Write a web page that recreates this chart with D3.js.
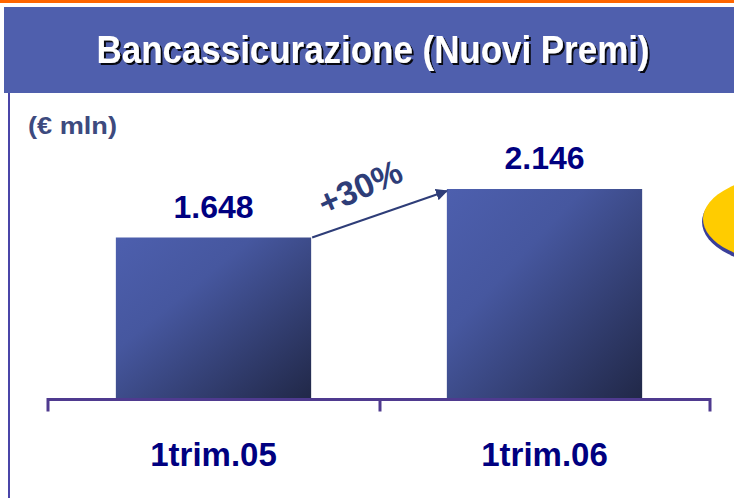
<!DOCTYPE html>
<html>
<head>
<meta charset="utf-8">
<script src="https://cdn.jsdelivr.net/npm/d3@7"></script>
<style>
  body { margin: 0; background: #fff; }
  text { font-family: "Liberation Sans", Arial, sans-serif; font-weight: bold; }
</style>
</head>
<body>
<script>
// Data
var categories = ["1trim.05", "1trim.06"];
var values = [1648, 2146];
var valueLabels = ["1.648", "2.146"];
var growthLabel = "+30%";
var title = "Bancassicurazione (Nuovi Premi)";
var unit = "(€ mln)";

var w = 734;
var h = 498;

var svg = d3.select("body")
    .append("svg")
    .attr("width", w)
    .attr("height", h);

var defs = svg.append("defs");
var grad = defs.append("linearGradient")
    .attr("id", "barGrad")
    .attr("x1", "0%").attr("y1", "0%")
    .attr("x2", "100%").attr("y2", "100%");
grad.append("stop").attr("offset", "0%").attr("stop-color", "#4d5fae");
grad.append("stop").attr("offset", "35%").attr("stop-color", "#46579f");
grad.append("stop").attr("offset", "100%").attr("stop-color", "#212848");

// drop shadow for title
var shadow = defs.append("filter")
    .attr("id", "shadow")
    .attr("x", "-5%").attr("y", "-20%")
    .attr("width", "110%").attr("height", "140%");
shadow.append("feDropShadow")
    .attr("dx", 2).attr("dy", 2)
    .attr("stdDeviation", 0.3)
    .attr("flood-color", "#000")
    .attr("flood-opacity", 0.9);

var marker = defs.append("marker")
    .attr("id", "arrow")
    .attr("viewBox", "0 0 10 10")
    .attr("refX", 9).attr("refY", 5)
    .attr("markerWidth", 6).attr("markerHeight", 6)
    .attr("markerUnits", "strokeWidth")
    .attr("orient", "auto");
marker.append("path")
    .attr("d", "M0,0 L10,5 L0,10 Z")
    .attr("fill", "#2e3d78");

// Top orange rule and header band
svg.append("rect")
    .attr("x", 0).attr("y", 0)
    .attr("width", w).attr("height", 3)
    .attr("fill", "#ff6600");

svg.append("rect")
    .attr("x", 4).attr("y", 7)
    .attr("width", w - 4).attr("height", 86)
    .attr("fill", "#4f5fad");

// left frame line
svg.append("line")
    .attr("x1", 9).attr("x2", 9)
    .attr("y1", 93).attr("y2", h)
    .attr("stroke", "#4a45a8")
    .attr("stroke-width", 2);

// Title
svg.append("text")
    .attr("x", 373).attr("y", 63)
    .attr("text-anchor", "middle")
    .attr("textLength", 553)
    .attr("lengthAdjust", "spacingAndGlyphs")
    .style("font-size", "38px")
    .attr("fill", "#fff")
    .attr("filter", "url(#shadow)")
    .text(title);

// Unit label
svg.append("text")
    .attr("x", 28).attr("y", 134)
    .attr("textLength", 89)
    .attr("lengthAdjust", "spacingAndGlyphs")
    .style("font-size", "24px")
    .attr("fill", "#3d4a7e")
    .text(unit);

// Scales
var xScale = d3.scaleBand()
    .domain(categories)
    .range([48, 710])
    .paddingInner(0.41)
    .paddingOuter(0.205);

var yScale = d3.scaleLinear()
    .domain([0, 2146])
    .range([398, 189]);

// Yellow decoration at right edge
svg.append("ellipse")
    .attr("cx", 790).attr("cy", 222)
    .attr("rx", 88).attr("ry", 45)
    .attr("fill", "#3a3f9a");
svg.append("ellipse")
    .attr("cx", 790).attr("cy", 219)
    .attr("rx", 87).attr("ry", 44)
    .attr("fill", "#ffcc00");

// Bars
svg.selectAll(".bar")
    .data(values)
    .enter().append("rect")
    .attr("class", "bar")
    .attr("x", function(d, i) { return xScale(categories[i]); })
    .attr("y", function(d) { return yScale(d); })
    .attr("width", xScale.bandwidth())
    .attr("height", function(d) { return yScale(0) - yScale(d); })
    .attr("fill", "url(#barGrad)");

// Value labels
svg.selectAll(".val")
    .data(values)
    .enter().append("text")
    .attr("class", "val")
    .attr("x", function(d, i) { return xScale(categories[i]) + xScale.bandwidth() / 2; })
    .attr("y", function(d) { return yScale(d) - 20; })
    .attr("text-anchor", "middle")
    .style("font-size", "32px")
    .attr("fill", "#000080")
    .text(function(d, i) { return valueLabels[i]; });

// Axis
var axisY = 399.5;
svg.append("path")
    .attr("d", "M48," + (axisY + 12) + "V" + axisY + "H710V" + (axisY + 12))
    .attr("fill", "none")
    .attr("stroke", "#4f3a8f")
    .attr("stroke-width", 3);
svg.append("line")
    .attr("x1", 380).attr("x2", 380)
    .attr("y1", axisY).attr("y2", axisY + 12)
    .attr("stroke", "#4f3a8f")
    .attr("stroke-width", 3);

// Category labels
svg.selectAll(".cat")
    .data(categories)
    .enter().append("text")
    .attr("class", "cat")
    .attr("x", function(d) { return xScale(d) + xScale.bandwidth() / 2; })
    .attr("y", 466)
    .attr("text-anchor", "middle")
    .style("font-size", "33px")
    .attr("fill", "#000080")
    .text(function(d) { return d; });

// Growth arrow
var x0 = xScale(categories[0]) + xScale.bandwidth();
var x1 = xScale(categories[1]);
svg.append("line")
    .attr("x1", x0 + 1).attr("y1", yScale(values[0]))
    .attr("x2", x1).attr("y2", yScale(values[1]) + 2)
    .attr("stroke", "#2e3d78")
    .attr("stroke-width", 2)
    .attr("marker-end", "url(#arrow)");

svg.append("text")
    .attr("transform", "translate(" + ((x0 + x1) / 2 - 14) + "," + 198 + ") rotate(-24)")
    .attr("text-anchor", "middle")
    .style("font-size", "34px")
    .attr("fill", "#2e3d78")
    .text(growthLabel);
</script>
</body>
</html>
